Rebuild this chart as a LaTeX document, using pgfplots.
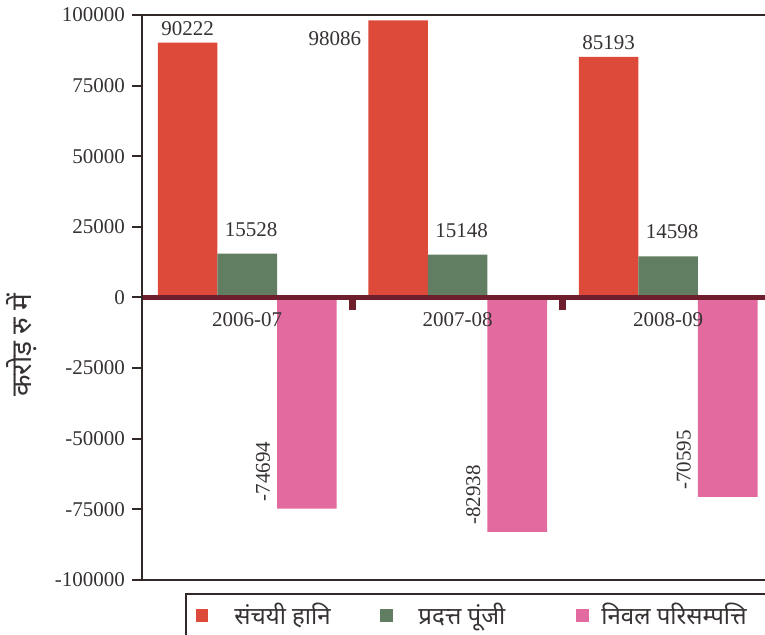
\documentclass[border=0pt]{standalone}
\usepackage{pgfplots}
\pgfplotsset{compat=1.18}
\usepackage{fontspec}
\setmainfont{Liberation Serif}
\newfontfamily\deva[Script=Devanagari]{Noto Sans}
\definecolor{redc}{RGB}{222,74,58}
\definecolor{greenc}{RGB}{98,126,98}
\definecolor{pinkc}{RGB}{226,106,158}
\definecolor{zeroc}{RGB}{110,30,45}
\definecolor{framec}{RGB}{50,40,40}
\definecolor{textc}{RGB}{55,50,50}
\begin{document}
\begin{tikzpicture}
\useasboundingbox (-71pt,-27.5pt) rectangle (311.5pt,290pt);
\begin{axis}[
  /pgf/number format/assume math mode=true,
  /pgf/number format/fixed,
  /pgf/number format/precision=0,
  /pgf/number format/1000 sep={},
  at={(0pt,0pt)}, anchor=south west,
  scale only axis, width=311.5pt, height=282.5pt,
  xmin=-0.5, xmax=2.46, ymin=-100000, ymax=100000,
  axis y line*=left, axis x line*=middle,
  axis on top, clip=false,
  font=\fontsize{10.5}{12}\selectfont,
  every tick label/.append style={text=textc},
  y axis line style={framec, line width=1pt},
  x axis line style={-, zeroc, line width=2.75pt},
  xtick={-0.5,0.5,1.5}, xticklabels={},
  x tick style={draw=zeroc, line width=3.5pt, yshift=-1.5pt},
  xticklabel style={yshift=-4pt},
  extra x ticks={0,1,2}, extra x tick labels={2006-07,2007-08,2008-09},
  extra x tick style={major tick length=0pt, tick style={draw=none}},
  ytick={-100000,-75000,-50000,-25000,0,25000,50000,75000,100000},
  scaled y ticks=false,
  yticklabel style={/pgf/number format/fixed, /pgf/number format/precision=0, /pgf/number format/1000 sep={}},
  y tick style={framec, line width=1pt}, tick align=outside, major tick length=5pt,
  every axis y label/.style={at={(rel axis cs:0,0.416)}, xshift=-60pt, rotate=90, anchor=center},
  ylabel={\deva\bfseries\fontsize{14}{16}\selectfont करोड़ रु में},
  ylabel style={text=textc},
  legend columns=3,
  legend style={at={(rel axis cs:0,0)}, anchor=north west, xshift=21.5pt, yshift=-6.5pt,
    draw=framec, line width=1pt, inner xsep=5pt, inner ysep=4.5pt, column sep=0pt,
    nodes={inner sep=0pt, text=textc}, font=\deva\fontsize{12}{14}\selectfont},
]
\addplot[ybar, bar width=0.283, bar shift=-0.283, fill=redc, draw=none,
  legend image code/.code={\fill[redc] (0pt,-3.2pt) rectangle (6.2pt,3.2pt);},
  nodes near coords, nodes near coords style={text=textc, font=\fontsize{10.5}{12}\selectfont, xshift=-29.8pt},
  coordinate style/.condition={\coordindex==1}{anchor=east, xshift=-14.9pt, yshift=-9pt}]
  coordinates {(0,90222) (1,98086) (2,85193)};
\addlegendentry{\hspace{13pt}\makebox[73pt][l]{संचयी हानि}}
\addplot[ybar, bar width=0.283, bar shift=0, fill=greenc, draw=none,
  legend image code/.code={\fill[greenc] (0pt,-3.2pt) rectangle (6.5pt,3.2pt);},
  nodes near coords, nodes near coords style={text=textc, font=\fontsize{10.5}{12}\selectfont, xshift=2pt, yshift=5pt}]
  coordinates {(0,15528) (1,15148) (2,14598)};
\addlegendentry{\hspace{12.5pt}\makebox[79pt][l]{प्रदत्त पूंजी}}
\addplot[ybar, bar width=0.283, bar shift=0.283, fill=pinkc, draw=none,
  legend image code/.code={\fill[pinkc] (0pt,-3.2pt) rectangle (6.5pt,3.2pt);},
  nodes near coords, nodes near coords align={},
  nodes near coords style={text=textc, font=\fontsize{10.5}{12}\selectfont, xshift=14.9pt, rotate=90, anchor=south west}]
  coordinates {(0,-74694) (1,-82938) (2,-70595)};
\addlegendentry{\hspace{6pt}\makebox[90pt][l]{निवल परिसम्पत्ति}}
\draw[framec, line width=1pt] (rel axis cs:0,1) -- (rel axis cs:1,1);
\draw[framec, line width=1pt] (rel axis cs:0,0) -- (rel axis cs:1,0);
\end{axis}
\end{tikzpicture}
\end{document}
